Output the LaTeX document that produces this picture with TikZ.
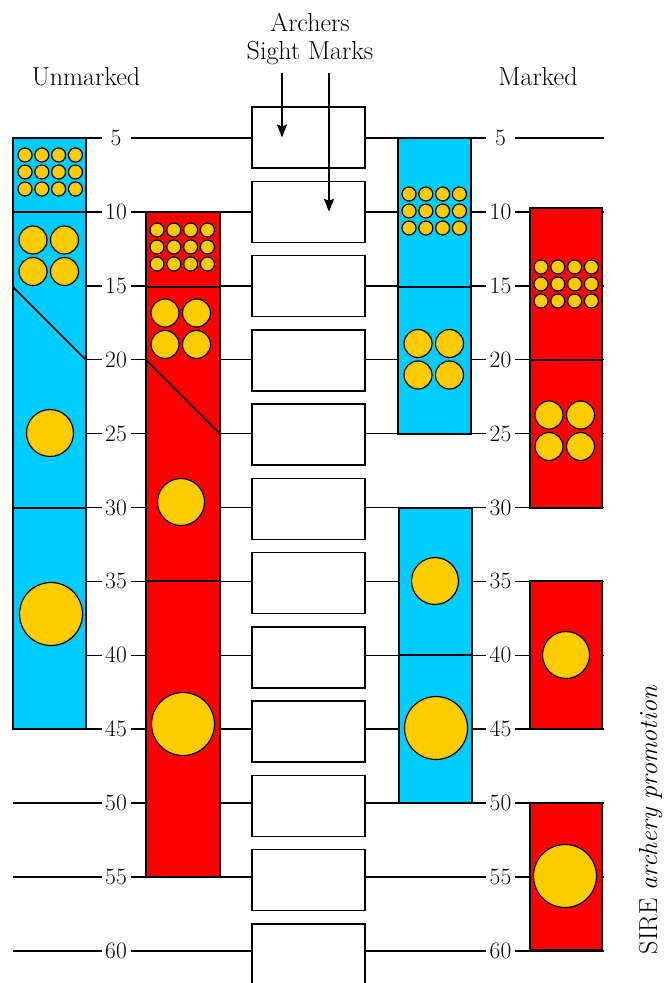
\documentclass[tikz,border=0pt]{standalone}
\usepackage{fontspec}
\usepackage{tikz}
\usetikzlibrary{arrows.meta, positioning, calc}
\definecolor{markblue}{RGB}{0,204,255}
\definecolor{markred}{RGB}{255,0,0}
\definecolor{dotgold}{RGB}{255,204,0}
\newcommand{\lbl}{\fontsize{23.5}{28}\selectfont}
\newcommand{\ttl}{\fontsize{26}{28}\selectfont}
\tikzset{
  colB/.style={draw=black, fill=markblue, line width=1.5pt},
  colR/.style={draw=black, fill=markred, line width=1.5pt},
  divline/.style={draw=black, line width=1.5pt},
  rule/.style={draw=black, line width=1.5pt},
  sightbox/.style={rectangle, draw=black, fill=white, line width=1.5pt,
    minimum width=113pt, minimum height=61pt, inner sep=0pt},
  dist/.style={fill=white, inner sep=0pt, minimum width=29pt,
    font=\lbl},
  title/.style={font=\ttl, align=center, inner sep=0pt},
  arr/.style={-{Stealth[length=13pt,width=10pt,inset=2pt]}, line width=1.5pt},
  dot/.style={draw=black, fill=dotgold, line width=1.2pt},
}
% 4 x 3 grid of small targets, #1,#2 = first centre
\newcommand{\dotgrid}[2]{%
  \foreach \gi in {0,...,3}{\foreach \gj in {0,...,2}{%
    \draw[dot] ({#1+16.8*\gi},{#2+17*\gj}) circle (7pt);}}}
% 2 x 2 grid of medium targets
\newcommand{\quadgrid}[2]{%
  \foreach \gi in {0,1}{\foreach \gj in {0,1}{%
    \draw[dot] ({#1+31.5*\gi},{#2+31.5*\gj}) circle (14pt);}}}

\begin{document}
\begin{tikzpicture}[x=1pt, y=-1pt]
  \useasboundingbox (0,0) rectangle (666,983);

  % Distance scale and sight mark boxes
  \foreach \v in {5,10,...,60}{
    \pgfmathsetmacro\ty{64.1+14.78*\v}
    \pgfmathsetmacro\by{63.23+14.854*\v}
    \node[sightbox] (box\v) at (308.5,\by) {};
    \coordinate (tl\v) at (13,\ty);
    \coordinate (tr\v) at (604,\ty);
    \draw[rule] (tl\v) -- (tl\v -| box\v.west);
    \draw[rule] (tr\v -| box\v.east) -- (tr\v);
    \node[dist] (ul\v) at (116,\ty) {\v};
    \node[dist] (ml\v) at (500.5,\ty) {\v};
  }

  % Unmarked: blue column
  \draw[colB] (13,138) rectangle (86,729);
  \draw[divline] (13,212) -- (86,212);
  \draw[divline] (13,287) -- (86,360);
  \draw[divline] (13,508) -- (86,508);
  \dotgrid{25}{155}
  \quadgrid{33}{240}
  \draw[dot] (50,433) circle (23.5pt);
  \draw[dot] (51,614) circle (31.5pt);

  % Unmarked: red column
  \draw[colR] (146,212) rectangle (220,877);
  \draw[divline] (146,287) -- (220,287);
  \draw[divline] (146,360) -- (220,434);
  \draw[divline] (146,581) -- (220,581);
  \dotgrid{157}{230}
  \quadgrid{165}{313}
  \draw[dot] (181,502) circle (23.5pt);
  \draw[dot] (183,724) circle (31.5pt);

  % Marked: blue columns
  \draw[colB] (398,138) rectangle (471,434);
  \draw[divline] (398,287) -- (471,287);
  \draw[colB] (399,508) rectangle (472,803);
  \draw[divline] (399,655) -- (472,655);
  \dotgrid{409}{194}
  \quadgrid{418}{343.5}
  \draw[dot] (435,581) circle (23.5pt);
  \draw[dot] (436,728) circle (31.5pt);

  % Marked: red columns
  \draw[colR] (530,208) rectangle (602,508);
  \draw[divline] (530,360) -- (602,360);
  \draw[colR] (530,581) rectangle (602,729);
  \draw[colR] (530,803) rectangle (602,950);
  \dotgrid{541}{267}
  \quadgrid{549}{415}
  \draw[dot] (566,655) circle (23.5pt);
  \draw[dot] (565,876) circle (31.5pt);

  % Titles
  \node[title, anchor=south] (sight) at (310,65) {Archers\\Sight Marks};
  \node[title, anchor=base] (unmk) at (86,85) {Unmarked};
  \node[title, anchor=base] (mk) at (538,85) {Marked};
  \node[title, rotate=90, anchor=base] (sire) at (657,820)
       {SIRE \textit{archery promotion}};

  % Pointers to the sight marks
  \draw[arr] ([xshift=-28pt,yshift=-8pt]sight.south) -- ([xshift=-26.5pt]box5.center);
  \draw[arr] ([xshift=19pt,yshift=-8pt]sight.south) -- ([xshift=20.5pt]box10.center);
\end{tikzpicture}
\end{document}
